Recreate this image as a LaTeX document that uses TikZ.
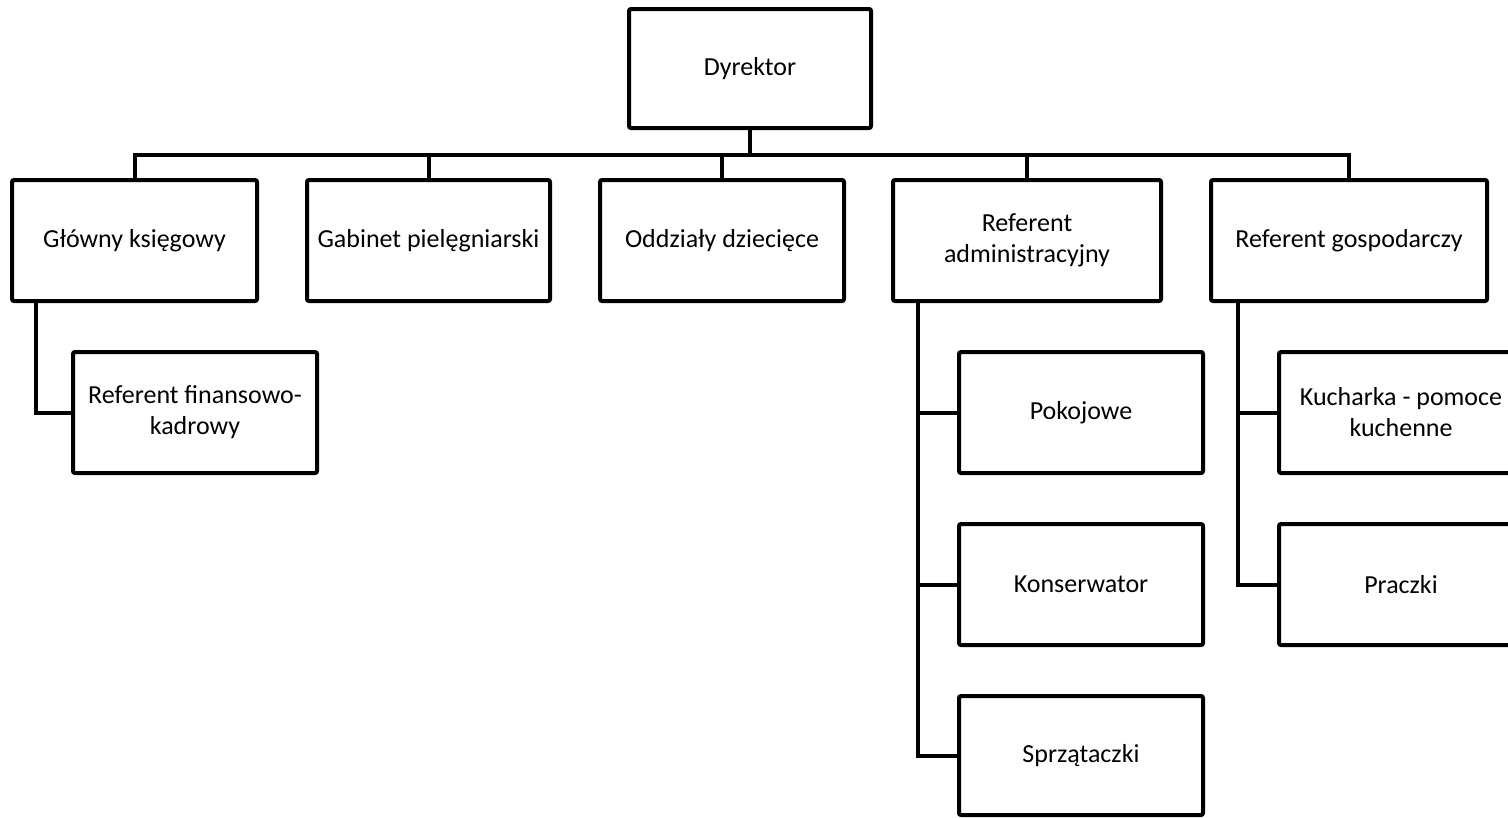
\documentclass[tikz,border=0pt]{standalone}
\usepackage{fontspec}
\setmainfont{Carlito}
\begin{document}
\begin{tikzpicture}[x=1pt,y=1pt,
  orgbox/.style={draw=black, line width=4pt, rounded corners=2pt, fill=white,
    minimum height=121pt, inner sep=2pt, align=center,
    font=\fontsize{26}{31}\selectfont},
  conn/.style={draw=black, line width=4pt, line join=miter}]
\useasboundingbox (0,0) rectangle (1508,-817);
\clip (0,0) rectangle (1508,-817);
\fill[white] (0,0) rectangle (1508,-817);

% nodes
\node[orgbox, minimum width=242pt, minimum height=119pt] (dyr) at (750,-68.5) {Dyrektor};
\node[orgbox, minimum width=245pt] (glow) at (134.5,-240.5) {Główny księgowy};
\node[orgbox, minimum width=243pt] (gab) at (428.5,-240.5) {Gabinet pielęgniarski};
\node[orgbox, minimum width=244pt] (odd) at (722,-240.5) {Oddziały dziecięce};
\node[orgbox, minimum width=268pt] (adm) at (1027,-240.5) {Referent\\administracyjny};
\node[orgbox, minimum width=276pt] (gosp) at (1349,-240.5) {Referent gospodarczy};
\node[orgbox, minimum width=244pt] (fin) at (195,-412.5) {Referent finansowo-\\kadrowy};
\node[orgbox, minimum width=244pt] (pok) at (1081,-412.5) {Pokojowe};
\node[orgbox, minimum width=244pt] (kon) at (1081,-584.5) {Konserwator};
\node[orgbox, minimum width=244pt, minimum height=119pt] (spr) at (1081,-755.5) {Sprzątaczki};
\node[orgbox, minimum width=244pt] (kuch) at (1401,-412.5) {Kucharka - pomoce\\kuchenne};
\node[orgbox, minimum width=244pt] (pra) at (1401,-584.5) {Praczki};

% bus
\coordinate (bus) at (0,-155);
\draw[conn] (glow.north) -- (glow.north |- bus) -- (gosp.north |- bus) -- (gosp.north);
\draw[conn] (dyr.south) -- (dyr.south |- bus);
\draw[conn] (gab.north) -- (gab.north |- bus);
\draw[conn] (odd.north) -- (odd.north |- bus);
\draw[conn] (adm.north) -- (adm.north |- bus);

% left branch
\coordinate (glowL) at ([xshift=26pt]glow.south west);
\draw[conn] (glowL) |- (fin.west);

% administrative branch
\coordinate (admL) at ([xshift=27pt]adm.south west);
\draw[conn] (admL) |- (spr.west);
\draw[conn] (pok.west) -- (pok.west -| admL);
\draw[conn] (kon.west) -- (kon.west -| admL);

% economic branch
\coordinate (gospL) at ([xshift=29pt]gosp.south west);
\draw[conn] (gospL) |- (pra.west);
\draw[conn] (kuch.west) -- (kuch.west -| gospL);
\end{tikzpicture}
\end{document}
